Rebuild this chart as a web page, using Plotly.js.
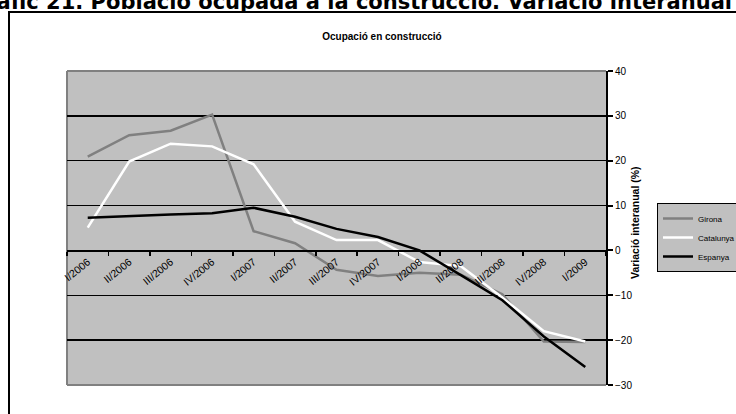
<!DOCTYPE html>
<html>
<head>
<meta charset="utf-8">
<script src="https://cdn.plot.ly/plotly-3.0.1.min.js"></script>
<style>
html,body{margin:0;padding:0;background:#fff;}
#chart{width:736px;height:414px;}
</style>
</head>
<body>
<div id="chart"></div>
<script>
var categories = ["I/2006","II/2006","III/2006","IV/2006","I/2007","II/2007","III/2007","IV/2007","I/2008","II/2008","III/2008","IV/2008","I/2009"];
var girona    = [20.9, 25.7, 26.7, 30.3, 4.3, 1.6, -4.3, -5.7, -5.0, -5.4, -9.8, -20.3, -20.4];
var catalunya = [5.1, 19.8, 23.8, 23.2, 19.2, 6.4, 2.3, 2.3, -2.6, -3.5, -10.5, -18.0, -20.3];
var espanya   = [7.3, 7.7, 8.0, 8.3, 9.5, 7.5, 4.8, 3.0, 0.0, -5.5, -11.1, -19.2, -26.0];
var seriesNames = ["Girona", "Catalunya", "Espanya"];
var pageTitle = "Gràfic 21. Població ocupada a la construcció. Variació interanual";
var chartTitle = "Ocupació en construcció";
var yTitle = "Variació interanual (%)";

// pixel geometry helpers (plot area 67..606 x, 71..385 y)
var W = 736, H = 414;
var L = 67, R = 606, T = 71, B = 385;
function px(x){ return (x - L) / (R - L); }
function py(y){ return (B - y) / (B - T); }

var traces = [
  {x: categories, y: girona, name: seriesNames[0], type: "scatter", mode: "lines",
   line: {color: "#808080", width: 2.5}},
  {x: categories, y: catalunya, name: seriesNames[1], type: "scatter", mode: "lines",
   line: {color: "#ffffff", width: 2.5}},
  {x: categories, y: espanya, name: seriesNames[2], type: "scatter", mode: "lines",
   line: {color: "#000000", width: 2.5}}
];

var layout = {
  width: W, height: H,
  margin: {l: L, r: W - R, t: T, b: H - B, pad: 0, autoexpand: false},
  paper_bgcolor: "#ffffff",
  plot_bgcolor: "#c0c0c0",
  font: {family: "Arial, 'Liberation Sans', sans-serif", color: "#000"},
  title: {text: "<b>" + chartTitle + "</b>", font: {size: 10, color: "#000"},
          x: 382/W, xref: "container", xanchor: "center",
          y: 1 - 36/H, yref: "container", yanchor: "middle"},
  showlegend: true,
  legend: {xref: "container", yref: "container", x: 657/W, y: 1 - 203/H,
           xanchor: "left", yanchor: "top",
           bgcolor: "#c0c0c0", bordercolor: "#000", borderwidth: 1,
           font: {size: 8, color: "#000"}, tracegroupgap: 0, itemwidth: 30},
  xaxis: {type: "category", range: [-0.5, 12.5], anchor: "free", position: 30/70,
          tickson: "boundaries", ticks: "outside", ticklen: 4, tickcolor: "#000", tickwidth: 1.5,
          showline: true, linecolor: "#000", linewidth: 1.5, showgrid: false, automargin: false,
          tickangle: -39, tickfont: {size: 10.5, color: "#000"}, fixedrange: true},
  yaxis: {side: "right", range: [-30, 40], dtick: 10, tick0: 0, automargin: false,
          showline: true, linecolor: "#000", linewidth: 2,
          ticks: "outside", ticklen: 5, tickcolor: "#000", tickwidth: 2,
          showgrid: true, gridcolor: "#000", gridwidth: 1.3, zeroline: false,
          tickfont: {size: 10, color: "#000"}, fixedrange: true},
  shapes: [
    {type: "rect", xref: "paper", yref: "paper", x0: px(9), x1: px(760), y0: py(12), y1: py(440),
     line: {color: "#000", width: 2}, fillcolor: "rgba(0,0,0,0)", layer: "below"},
    {type: "line", xref: "paper", yref: "paper", x0: 0, x1: 0, y0: 0, y1: 1,
     line: {color: "#808080", width: 2}, layer: "below"},
    {type: "line", xref: "paper", yref: "paper", x0: 0, x1: 1, y0: 1, y1: 1,
     line: {color: "#808080", width: 2}, layer: "above"},
    {type: "line", xref: "paper", yref: "paper", x0: 0, x1: 1, y0: 0, y1: 0,
     line: {color: "#808080", width: 2}, layer: "above"}
  ],
  annotations: [
    {text: "<b>" + pageTitle + "</b>", xref: "paper", yref: "paper",
     x: px(-33), y: py(2), xanchor: "left", yanchor: "middle", showarrow: false,
     font: {family: "'DejaVu Sans', Verdana, sans-serif", size: 21, color: "#000"}},
    {text: "<b>" + yTitle + "</b>", xref: "paper", yref: "paper",
     x: px(635), y: py(223), xanchor: "center", yanchor: "middle", showarrow: false,
     textangle: -90, font: {size: 10.5, color: "#000"}}
  ]
};

Plotly.newPlot("chart", traces, layout, {displayModeBar: false, staticPlot: true});
</script>
</body>
</html>
